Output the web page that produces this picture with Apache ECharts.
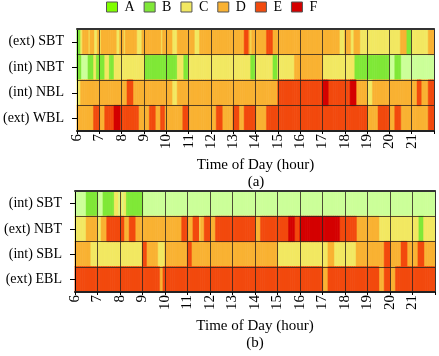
<!DOCTYPE html>
<html><head><meta charset="utf-8">
<script src="https://cdn.jsdelivr.net/npm/echarts@6/dist/echarts.min.js"></script>
<style>html,body{margin:0;padding:0;background:#fff}#c{width:439px;height:356px}</style>
</head><body><div id="c"></div>
<script>
// Level of service classes
const levels = ['A','B','C','D','E','F'];
const cellColors = {A:'#ccff99',B:'#80e838',C:'#f2e862',D:'#f9b233',E:'#f24a0e',F:'#d40000'};
const legendColors = {A:'#80ff00',B:'#80e838',C:'#f2e862',D:'#f9b233',E:'#f24a0e',F:'#d40000'};
// hour ticks (6..21); each hour string holds twelve 5-minute classes
const hourTicks = [6,7,8,9,10,11,12,13,14,15,16,17,18,19,20,21];
const rowsA = ['(ext) SBT','(int) NBT','(int) NBL','(ext) WBL'];
const rowsB = ['(int) SBT','(ext) NBT','(int) SBL','(ext) EBL'];
// panel (a)
const a_extSBT = ['BBCDDDCDDCCD','CDDDDDDDDCCD','DCDDDDDDCCCD','DDDDDDDDDCDD','DDDCCCDDDDDD','DDDCCCDDDDDD','DDDDDDDDDDDD','DDDDDDEEDCDD',
                  'DDDDDDEEEDDD','DDDDDDDDDDDD','DDDDDDDDDDDD','DDDDDDDDDCCC','DDDCCDDDCCCC','CCCCCCCCCCCC','CCCCCCDDDBBB','CCCCCCCCCDDD'];
const a_intNBT = ['BBAAAABBBCBB','BBBCCBBBCCCC','CCCCCCCCCCCC','BBBBBBBBBBBB','BBBBBBCCCBBB','CCCCCCCCCCCC','CCCCCCCCCCCC','CCCCCCCCCBBB',
                  'CCCCCCCCCBBB','CCCCCCCCCDDD','DDDDDDDDDDDD','CCCCCCCCCCCC','CCCCCBBBBBBB','BBBBBBBBBBBB','AAABBBAAAAAA','AAAAAAAAAAAA'];
const a_intNBL = ['CCDDDDDDDDDD','DDDDDDDDDDDD','DDDEEEDDDDDD','DDDDDDDDDDDD','DDDCCCDDDDDD','DDDDDDDDDDDD','DDDDDDDDDDDD','DDDDDDDDDDDD',
                  'DDDDDDDDDDDD','EEEEEEEEEEEE','EEEEEEEEEEEE','FFFEEEEEEEEE','EEEFFFDDDDDD','CCCDDDDDDDDD','DDDDDDDDDDDD','DDDEEDDDDEEE'];
const a_extWBL = ['DDDDDDDDDEEE','DDDEEEEEFFFE','EEEEEEEEEDDD','DDDEEEDDDEED','DDDDDDDDDEEE','DDDDDDDDDDDD','DDDEEEDDDDDD','EEEDDDEEEEEE',
                  'DDDDDDEEEEEE','EEEEEEEEEEEE','EEEEEEEEEEEE','EEEEEEEEEEEE','EEEEEEEEEEEE','DDDDDDEEEEEE','DDDEEEDDDDDD','DDDDDDDDDEEE'];
// panel (b)
const b_intSBT = ['AAAAAABBBBBB','AAABBBBBBCCA','CACBBBBBBBBB','AAAAAAAAAAAA','AAAAAAAAAAAA','AAAAAAAAAAAA','AAAAAAAAAAAA','AAAAAAAAAAAA',
                  'AAAAAAAAAAAA','AAAAAAAAAAAA','AAAAAAAAAAAA','AAAAAAAAAAAA','AAAAAAAAAAAA','AAAAAAAAAAAA','AAAAAAAAAAAA','AAAAAAAAAAAA'];
const b_extNBT = ['CCCCCCDDDDDD','CCDDDEEEEEEE','EEDDDEEEDDDD','DDDDDDDDDDDD','DDDDDDDDDEEE','DDDEEECDDEEE','DDDEEEEEEEEE','EEEEEEEEEEEE',
                  'DDDEEEEEEEEE','EEEEEEFFFEEE','FFFFFFFFFFFF','FFFFFFFFFEEE','EEEEEEDDDDDD','DDDDDDCCCCCC','CCCCCCCCCCCC','CCCBBBCCCCCC'];
const b_intSBL = ['DDDDDDDDCCCC','CCCCCCCCCCCC','CCCCCCCCCCCC','EEDDDDDDCCCC','DDDDDDDDDDDD','EEDDDDDDDDDD','DDDDDDDDDDDD','DDDDDDDDDDDD',
                  'DDDDDDDDDDDD','CCCCCCCCCCCC','CCCCCCCCCCCC','CCCDDDCCCCCC','CCCCCCDDDDDD','DDDDDDDDDEEE','DDDDDDEEEDDD','DDDEEEDDDDDD'];
const b_extEBL = ['EEEEEEEEEEEE','EEEEEEEEEEEE','EEEEEEEEEEEE','EEEEEEEEEDDE','EEEEEEEEEEEE','EEEEEEEEEEEE','EEEEEEEEEEEE','EEEEEEEEEEEE',
                  'EEEEEEEEEEEE','EEEEEEEEEEEE','EEEEEEEEEEEE','DDDEEEEEEEEE','EEEEEEEEEEEE','EEEEEEDDDEEE','DDDEEEEEEEEE','EEEEEEEEEEEE'];

const panelA = [a_extSBT, a_intNBT, a_intNBL, a_extWBL];
const panelB = [b_intSBT, b_extNBT, b_intSBL, b_extEBL];

const slots = [];
hourTicks.forEach(h => { for (let q = 0; q < 12; q++) slots.push(h + ':' + String(q*5).padStart(2,'0')); });

const FONT = "'Liberation Serif','Times New Roman',serif";

function buildSeries(panel, xIdx, yIdx) {
  const byLevel = {}; levels.forEach(l => byLevel[l] = []);
  panel.forEach((row, r) => {
    row.join('').split('').forEach((lv, i) => byLevel[lv].push([i, r, 1]));
  });
  return levels.map(l => ({
    type: 'heatmap', name: l, xAxisIndex: xIdx, yAxisIndex: yIdx,
    data: byLevel[l],
    itemStyle: {color: cellColors[l], borderColor: cellColors[l], borderWidth: 0.4},
    emphasis: {disabled: true}
  }));
}

const lineCol = 'rgba(45,35,30,0.8)';
function xAxes(gi) {
  return [
    {type:'category', gridIndex:gi, data:slots, show:false},
    {type:'value', gridIndex:gi, min:6, max:22, interval:1, position:'bottom', z:10,
     axisLine:{show:true, lineStyle:{color:'#222', width:2}},
     axisTick:{show:true, length:3, lineStyle:{color:'#000'}},
     axisLabel:{rotate:90, fontSize:15, fontFamily:FONT, color:'#000', margin:3,
       formatter: v => (hourTicks.indexOf(v) >= 0 ? String(v) : '')},
     splitLine:{show:true, lineStyle:{color:lineCol, width:1}},
     name:'Time of Day (hour)', nameLocation:'middle', nameGap:27,
     nameTextStyle:{fontSize:15, fontFamily:FONT, color:'#000'}},
    {type:'value', gridIndex:gi, min:6, max:22, position:'top', z:10,
     axisLine:{show:true, lineStyle:{color:'#333', width:2}},
     axisTick:{show:false}, axisLabel:{show:false}, splitLine:{show:false}}
  ];
}
function yAxes(gi, rows) {
  return [
    {type:'category', gridIndex:gi, data:rows, inverse:true, z:10,
     axisLine:{show:true, lineStyle:{color:'#000', width:1}},
     axisTick:{show:true, length:5, alignWithLabel:true, lineStyle:{color:'#000'}},
     axisLabel:{fontSize:14, fontFamily:FONT, color:'#000', margin:13},
     splitLine:{show:true, lineStyle:{color:lineCol, width:1}}},
    {type:'category', gridIndex:gi, data:rows, inverse:true, position:'right', z:10,
     axisLine:{show:true, lineStyle:{color:'#333', width:1}},
     axisTick:{show:false}, axisLabel:{show:false}, splitLine:{show:false}}
  ];
}

const chart = echarts.init(document.getElementById('c'), null, {renderer:'canvas'});
chart.setOption({
  animation: false,
  backgroundColor: '#fff',
  title: [
    {text:'(a)', left:256, top:175, textAlign:'center', padding:0,
     textStyle:{fontSize:15, fontWeight:'normal', fontFamily:FONT, color:'#000'}},
    {text:'(b)', left:255, top:336, textAlign:'center', padding:0,
     textStyle:{fontSize:15, fontWeight:'normal', fontFamily:FONT, color:'#000'}}
  ],
  legend: {
    left:106, top:0, padding:0, icon:'rect', itemWidth:11, itemHeight:10, itemGap:9,
    selectedMode:false,
    textStyle:{fontSize:14, fontFamily:FONT, color:'#000', padding:[0,0,0,2]},
    data: levels.map(l => ({name:l, itemStyle:{color:legendColors[l], borderColor:'#555', borderWidth:1}}))
  },
  grid: [
    {left:77, width:357, top:29, height:102, containLabel:false, outerBoundsMode:'none'},
    {left:75, width:360, top:191, height:101, containLabel:false, outerBoundsMode:'none'}
  ],
  xAxis: [...xAxes(0), ...xAxes(1)],
  yAxis: [...yAxes(0, rowsA), ...yAxes(1, rowsB)],
  series: [...buildSeries(panelA, 0, 0), ...buildSeries(panelB, 3, 2)]
});
</script></body></html>
